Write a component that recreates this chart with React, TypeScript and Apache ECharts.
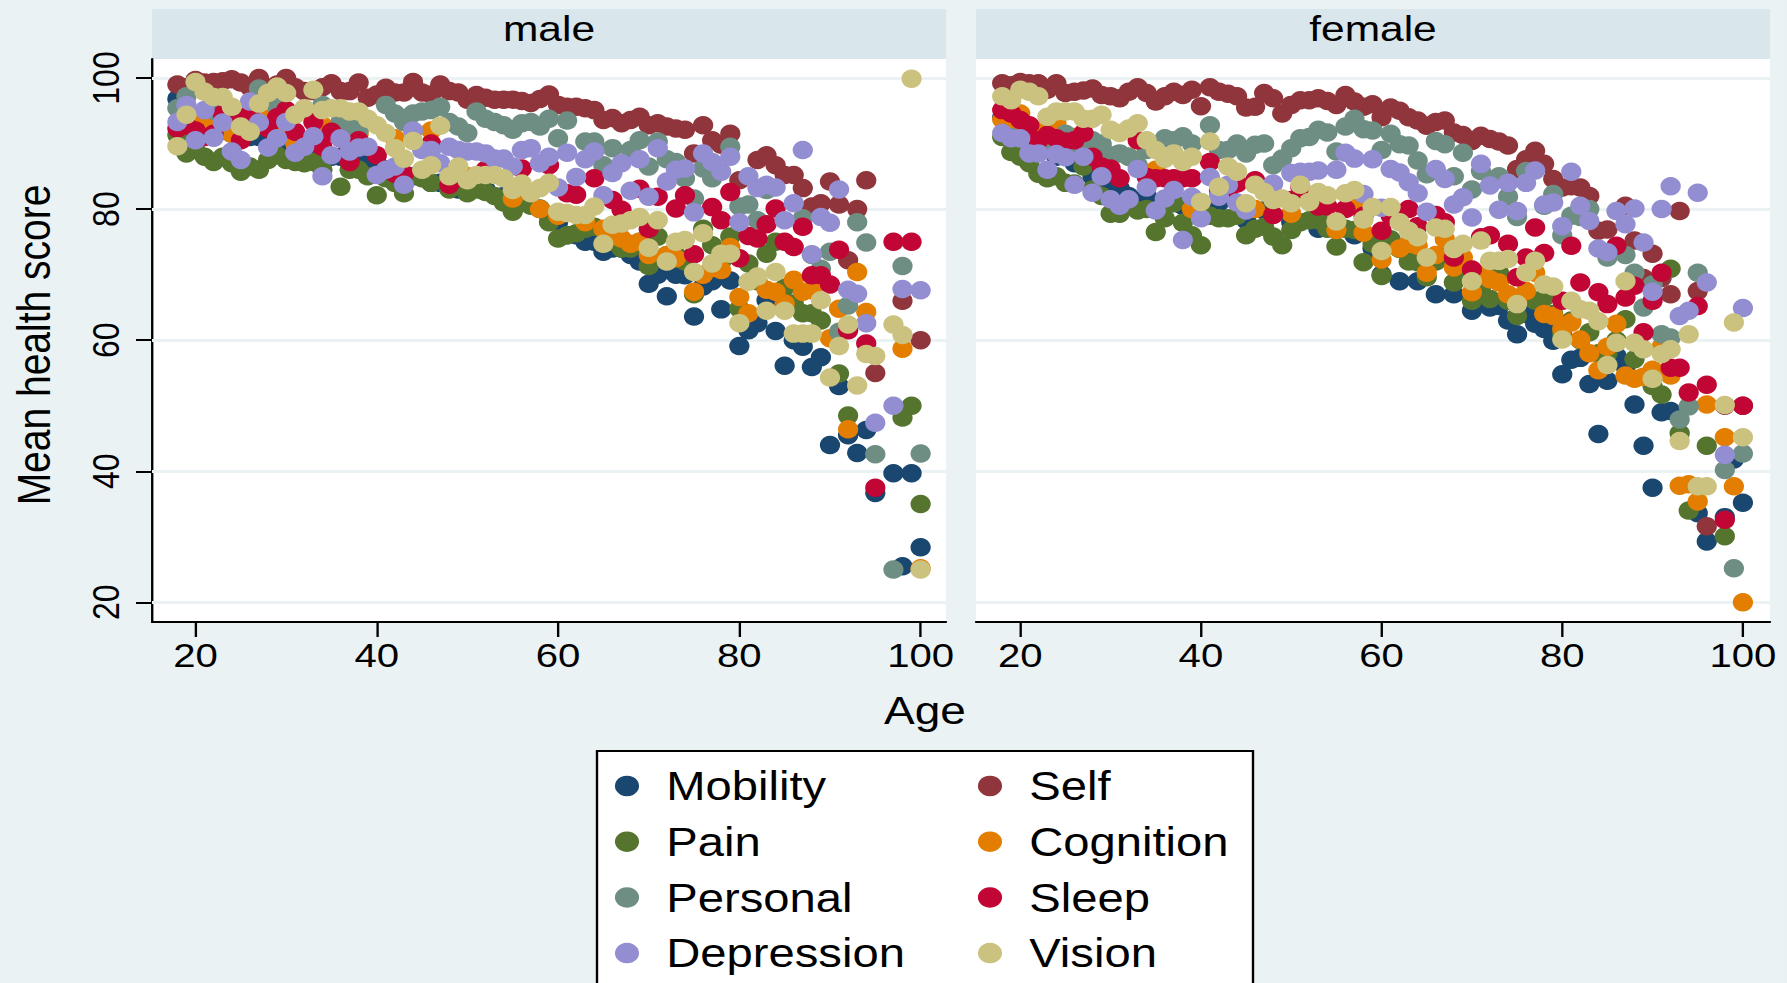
import React, { useEffect, useRef } from "react";
import * as echarts from "echarts";

type P = [number, number];

const xTicks = [20, 40, 60, 80, 100];
const yTicks = [20, 40, 60, 80, 100];

const mobilityMale: P[] = [[18,96.8],[19,95],[20,93],[21,93],[22,92],[23,92],[24,91.5],[25,91],[26,91],[27,91],[28,90],[29,90],[30,90],[31,90],[32,89],[33,89],[34,89],[35,88],[36,88],[37,88],[38,88],[39,87],[40,87],[41,86],[42,86],[43,85],[44,85],[45,85],[46,84],[47,84],[48,84],[49,83],[50,83],[52,83],[54,82],[56,81],[58,80],[59,79],[60,78],[61,76],[62,76],[63,75],[64,75],[65,73.5],[66,74],[67,74],[68,73],[69,72],[70,68.6],[71,70],[72,66.7],[73,70],[74,69.9],[75,63.6],[76,68.2],[77,69],[78,64.7],[79,69.1],[80,59.1],[81,61.5],[82,62.6],[83,66.1],[84,61.4],[85,56.1],[86,60],[87,59],[88,55.9],[89,57.4],[90,44],[91,53],[92,45.5],[93,42.8],[94,46.3],[95,36.7],[97,39.7],[98,25.5],[99,39.7],[100,28.4]];
const selfMale: P[] = [[18,99],[19,98.6],[20,99.7],[21,99.3],[22,99.4],[23,99.5],[24,99.8],[25,99.3],[26,98.6],[27,100],[28,98.5],[29,99],[30,100],[31,98.6],[32,98],[33,98],[34,98.6],[35,99.2],[36,98],[37,98],[38,99.3],[39,97],[40,97.5],[41,98.5],[42,97.8],[43,97.8],[44,99.4],[45,97.8],[46,97.5],[47,99],[48,98],[49,97.8],[50,96.7],[51,97.4],[52,97],[53,96.7],[54,96.7],[55,96.7],[56,96.5],[57,96.2],[58,96.8],[59,97.5],[60,95.9],[61,95.6],[62,95.6],[63,95.4],[64,95.1],[65,93.6],[66,93.9],[67,93.1],[68,93.6],[69,94.1],[70,92.8],[71,93.1],[72,92.6],[73,92.3],[74,92.1],[75,88.5],[76,92.8],[77,90.5],[78,89.8],[79,91.5],[80,84.4],[82,87.5],[83,88.2],[84,86.7],[85,85.2],[86,85.2],[87,83.2],[88,80.4],[89,80.9],[90,84.2],[91,80.7],[92,72.2],[93,80],[94,84.4],[95,55],[98,66],[100,60]];
const painMale: P[] = [[18,91.3],[19,88.5],[20,89],[21,88],[22,87.2],[23,88],[24,87],[25,85.7],[26,86.5],[27,86],[28,87.5],[29,88.2],[30,87.5],[31,87.2],[32,87],[33,87.2],[34,86],[36,83.4],[37,86],[38,86],[39,85],[40,82.1],[41,84.7],[42,84],[43,82.4],[45,84.7],[46,84],[48,83],[50,82.4],[51,83],[52,82.6],[53,82],[54,81],[55,79.6],[56,81],[57,80.5],[58,80.1],[59,78],[60,75.5],[61,76],[62,76.3],[63,77],[64,77.3],[66,75],[67,74],[68,74],[69,75],[70,71.3],[71,75.8],[72,73],[73,73],[74,72],[75,67],[76,77],[77,74.5],[78,72],[79,75.8],[80,64.8],[81,71.7],[82,69],[83,73.2],[84,75],[85,68],[86,65.6],[87,64.1],[88,64.1],[89,63],[91,54.9],[92,48.5],[98,48.2],[99,50],[100,35]];
const cognitionMale: P[] = [[20,93.8],[22,93],[24,91.5],[26,92],[28,93.8],[30,92],[31,90],[34,92.8],[38,91.5],[42,90.8],[46,92],[50,85],[55,81.6],[58,80],[60,79],[63,78],[65,77],[66,76],[67,75.5],[68,74.7],[69,75],[70,73],[72,73],[73,72.5],[75,67.4],[76,70],[77,71],[78,70.7],[79,74.2],[80,66.6],[81,64.1],[83,67.7],[84,67.4],[85,65.6],[86,69.2],[87,67.4],[88,67.6],[90,60.3],[91,64.8],[92,46.4],[93,70.4],[94,64.3],[98,58.7],[100,25.2]];
const personalMale: P[] = [[18,95.4],[19,97.2],[22,95],[24,94],[27,98.4],[29,95.6],[34,95.9],[36,93.3],[37,92.8],[38,92],[41,95.9],[42,94.6],[43,93.3],[44,94.6],[45,94.9],[46,95.1],[47,95.6],[48,93.3],[49,92.6],[50,91.6],[51,94.9],[52,93.8],[53,93.3],[54,92.8],[55,92.1],[56,93.1],[57,93.3],[58,92.6],[59,93.8],[60,90.8],[61,93.5],[63,90.3],[64,90.3],[65,86.7],[66,89.3],[68,89],[69,90.5],[70,86.5],[71,90.3],[72,87.6],[73,87.2],[74,84.7],[75,81.6],[76,86.2],[77,84.7],[79,89.5],[80,80.4],[81,80.7],[82,78.3],[83,82.9],[87,78.6],[88,73],[89,70.9],[90,73.5],[91,61.3],[92,65.3],[93,78],[94,74.9],[95,42.6],[97,25],[98,71.3],[100,42.7]];
const sleepMale: P[] = [[18,92.3],[19,92.8],[20,92],[21,91],[22,91.5],[23,94.5],[24,94.6],[25,90.5],[26,94.6],[27,93],[28,92.3],[29,94],[30,95.1],[31,91.8],[33,93.3],[34,89.5],[35,91.8],[36,90.8],[37,87.2],[38,90.5],[40,88.2],[42,85.4],[43,85.4],[46,90],[48,83.7],[52,86],[56,86.2],[59,86.7],[61,82.4],[62,82.2],[64,84.7],[66,81.4],[67,79.9],[69,83.1],[70,77],[71,81.9],[73,80.1],[74,82.1],[75,73.1],[77,80.3],[78,78.3],[79,82.6],[80,72.5],[81,75.9],[82,75.5],[83,77.7],[84,80.1],[85,75],[86,74.2],[87,77.3],[88,69.9],[89,69.9],[90,68.5],[91,73.8],[92,61.5],[94,59.5],[95,37.5],[97,75],[99,75]];
const depressionMale: P[] = [[18,93.3],[19,95.9],[20,90.5],[21,95.1],[22,90.9],[23,93.2],[24,88.8],[25,87.5],[26,96.4],[27,93.2],[28,89.4],[29,90.8],[30,93.3],[31,88.6],[32,89.5],[33,91.1],[34,85],[35,88.2],[36,90.8],[37,88.8],[38,89.4],[39,89.5],[40,85.2],[41,86],[42,86.5],[43,83.7],[44,92],[45,89],[46,89],[47,87],[48,89.5],[49,89],[50,88.8],[51,88.8],[52,88.5],[53,87.7],[54,87.7],[55,86.5],[56,89],[57,89.3],[58,87],[59,88],[60,83.3],[61,88.6],[62,84.9],[63,87.6],[64,88.8],[65,82.1],[66,85.5],[67,87],[68,82.8],[69,87.6],[70,81.9],[71,89.3],[72,84.2],[73,86],[74,86.2],[75,79.5],[76,88.5],[77,87.2],[78,85.7],[79,88],[80,78],[81,85],[82,83.2],[83,83.7],[84,83.3],[85,78.3],[86,80.9],[87,89],[88,73.1],[89,78.8],[90,77.9],[91,83],[92,67.7],[93,67.1],[94,62.6],[95,47.4],[97,50],[98,67.8],[100,67.6]];
const visionMale: P[] = [[18,89.6],[19,94.4],[20,99.4],[21,97.9],[22,97.1],[23,97.1],[24,95.6],[25,92.6],[26,91.8],[27,96.1],[28,97.7],[29,98.7],[30,97.7],[31,94.4],[32,95.4],[33,98.2],[34,95.1],[35,95.4],[36,95.4],[37,94.9],[38,94.9],[39,93.8],[40,92.8],[41,91.6],[42,89.3],[43,87.7],[44,90.4],[45,86],[46,86.7],[47,92.7],[48,85],[49,86.5],[50,84.4],[51,85.2],[52,85.2],[53,85.2],[54,84.7],[55,82.9],[56,83.9],[57,82.4],[58,83.2],[59,84],[60,79.6],[61,79.4],[62,79.1],[63,79.1],[64,80.4],[65,74.7],[66,77.6],[67,77.8],[68,78.3],[69,78.8],[70,74.1],[71,78.3],[72,72],[73,75],[74,75.3],[75,70.4],[76,76.3],[77,71.7],[78,73.2],[79,73.2],[80,62.6],[81,68.9],[82,69.7],[83,64.5],[84,70.4],[85,64.5],[86,61],[87,61],[88,61],[89,66.1],[90,54.3],[91,59.1],[92,62.4],[93,53.1],[94,57.9],[95,57.6],[97,62.4],[98,60.8],[99,99.9],[100,25]];

const mobilityFemale: P[] = [[18,94],[20,92],[22,90],[24,88],[26,87],[28,85],[30,84],[31,83.2],[32,82],[34,82],[36,81],[38,80.5],[40,80],[42,81],[45,78.3],[47,79.8],[50,78],[53,77],[57,76],[59,74],[60,70],[62,69],[64,69],[66,67],[68,67],[70,64.5],[72,65],[73,65.2],[74,63],[75,60.9],[76,64],[77,62.5],[78,61.7],[79,59.9],[80,54.8],[81,57],[82,57.3],[83,53.3],[84,45.7],[85,53.8],[86,57.6],[87,56],[88,50.2],[89,43.9],[90,37.5],[91,49],[92,49.2],[95,33.6],[96,29.3],[98,33],[99,41.8],[100,35.2]];
const selfFemale: P[] = [[18,99.2],[19,98.9],[20,99.4],[21,99.2],[22,99.2],[23,98.2],[24,99.2],[25,97.7],[26,97.9],[27,98.1],[28,98.4],[29,97.4],[30,97.2],[31,96.9],[32,97.9],[33,98.6],[34,97.7],[35,96.4],[36,97.2],[37,97.9],[38,97.4],[39,98.2],[40,95.7],[41,98.6],[42,97.9],[43,97.6],[44,97.2],[45,95.5],[46,95.6],[47,97.7],[48,96.9],[49,94.6],[50,95.9],[51,96.6],[52,96.6],[53,96.9],[54,96.5],[55,95.9],[56,97.4],[57,96.4],[58,95.6],[59,96],[60,94],[61,95.5],[62,95],[63,94],[64,93.5],[65,92.7],[66,93.3],[67,93.5],[68,91.7],[69,91.3],[70,90.4],[71,91.2],[72,90.7],[73,90.3],[74,89.7],[75,86.1],[76,87.6],[77,88.9],[78,86.9],[79,84.6],[80,83.3],[81,83.5],[82,83.3],[83,82],[84,76.7],[85,76.9],[87,80.5],[88,75.2],[89,69.5],[90,73.2],[91,69.5],[92,67],[93,79.7],[95,67.5],[96,31.6],[98,50],[100,50]];
const painFemale: P[] = [[18,91],[19,88.7],[20,88],[21,87],[22,85.4],[23,84.7],[24,85],[25,84],[26,83.9],[27,86.5],[28,83],[29,82],[30,79.3],[31,79.3],[32,81],[33,79.8],[34,80],[35,76.5],[36,78.6],[37,80.9],[38,77.9],[39,76],[40,74.5],[41,79],[42,78.6],[43,78.6],[44,79],[45,76],[46,77],[47,77.3],[48,75.8],[49,74.5],[50,76.8],[51,78],[52,78.3],[53,78.3],[54,77],[55,74.3],[56,77],[57,76.8],[58,71.9],[59,74.7],[60,69.8],[61,75.4],[62,73.9],[63,72],[64,71.9],[65,69.6],[66,72],[67,73],[68,68.8],[69,70],[70,66],[71,68],[72,66.3],[73,70.3],[74,66],[75,63.7],[76,67],[77,66],[78,66.5],[79,64],[80,61],[81,63],[82,60],[83,61.2],[84,58],[85,58],[86,60],[87,63.2],[88,57.1],[90,53],[91,51.7],[92,70.9],[93,45.8],[94,34],[96,43.9],[98,30.1]];
const cognitionFemale: P[] = [[18,93.7],[19,93],[20,94.6],[22,92],[24,93.1],[26,91],[29,89.8],[32,88],[35,86],[39,80],[42,82],[46,80],[50,79.3],[55,76.8],[57,80.6],[58,76.4],[60,72.3],[62,74],[63,74.7],[64,74.4],[65,70.3],[66,73],[67,75.4],[68,71.1],[69,72.6],[70,67.3],[71,70],[72,69.3],[73,68.8],[74,67],[75,66],[76,67.5],[77,70.3],[78,64],[79,63.7],[80,61.7],[81,62.7],[82,60.1],[83,58],[84,55.4],[85,59],[86,62.5],[87,54.6],[88,54.1],[89,54.4],[90,55.5],[91,59],[92,54.6],[93,37.8],[94,38],[95,35.4],[96,50.2],[98,45.2],[99,37.7],[100,20]];
const personalFemale: P[] = [[19,91],[21,90],[23,89],[25,91.5],[26,90],[27,89.5],[28,90.5],[29,90],[30,88.2],[31,88.5],[32,88],[33,86.7],[34,89],[36,90.8],[37,90.5],[38,91.1],[39,90],[41,92.8],[42,89],[43,89],[44,90],[45,88.5],[46,89.8],[47,90],[48,86.7],[49,87.7],[50,89.3],[51,90.8],[52,91],[53,92.1],[54,91.7],[55,88.8],[56,92.6],[57,93.8],[58,92.2],[59,92],[60,89],[61,91.5],[62,89.9],[63,89.7],[64,87.4],[65,85.3],[66,90.4],[67,89.9],[68,85],[69,88.6],[70,83],[71,85.8],[73,85],[74,81.9],[75,78.8],[76,85.8],[78,80.5],[79,82.3],[80,76],[81,79],[82,78.8],[83,80],[85,72.6],[87,73],[88,70.3],[89,65],[90,68.5],[91,60.9],[92,60.4],[93,47.9],[94,49.9],[95,70.3],[98,40.2],[99,25.2],[100,42.7]];
const sleepFemale: P[] = [[18,95.1],[19,94.6],[20,93.6],[21,92.8],[22,90.5],[23,91.3],[24,90.8],[25,90.3],[26,90.5],[27,91.6],[28,88],[29,86.5],[30,86.2],[31,84.7],[33,90.5],[34,84.9],[35,84.7],[36,84.7],[37,84.7],[38,84.7],[39,84.7],[41,87.2],[42,82.9],[43,82.4],[44,83.9],[46,84.4],[48,79.1],[50,81.4],[51,83.4],[53,80.4],[54,80.4],[56,80],[58,79],[60,76.7],[61,79],[63,80],[64,77.4],[66,79.1],[67,78],[68,72.6],[70,70.8],[71,75.7],[72,76],[74,74.7],[75,69.6],[76,72.6],[77,77.2],[78,73.3],[80,66],[81,74.4],[82,68.8],[84,67.3],[85,65.5],[86,74.4],[87,66.5],[88,68.3],[89,61.2],[90,66],[91,70.3],[92,55.8],[93,55.8],[94,52],[95,65.2],[96,53.2],[98,32.6],[100,50]];
const depressionFemale: P[] = [[18,91.6],[19,90.8],[20,90.8],[21,88.5],[22,88.5],[23,86],[24,88.4],[25,87.9],[26,83.7],[27,88],[28,82.5],[29,85],[30,81.5],[31,80.5],[32,81.5],[33,86.1],[34,83.3],[35,79.8],[36,81.6],[37,82.9],[38,75.3],[39,81.9],[40,78.6],[41,84.9],[42,81.9],[43,83.7],[44,81],[45,79.8],[48,83.9],[50,85.5],[51,85.7],[52,85.7],[53,85.9],[55,86],[56,88.6],[57,87.7],[58,82.3],[59,87.6],[60,80.2],[61,86.1],[62,85.6],[63,84.1],[64,82.4],[65,79.6],[66,86.1],[67,84.6],[68,80.7],[69,81.8],[70,78.7],[71,86.9],[72,83.6],[73,79.9],[74,84],[75,79.7],[76,84],[77,85.9],[78,80.7],[79,81],[80,77.4],[81,85.7],[82,80.5],[83,78.2],[84,74],[85,73.4],[86,79.7],[87,77.7],[88,80.1],[89,74.9],[90,67.4],[91,80],[92,83.5],[93,63.7],[94,64.5],[95,82.5],[96,68.8],[98,42.5],[100,64.9]];
const visionFemale: P[] = [[18,97.2],[19,96.6],[20,98.2],[21,97.9],[22,97.2],[23,94.1],[24,94.9],[25,94.9],[26,94.9],[27,93.8],[28,93.8],[29,94.4],[30,92.1],[31,91.6],[32,92.3],[33,93.1],[34,90.5],[35,89],[36,87.7],[37,88.5],[38,87.2],[39,88],[40,81.1],[41,90.3],[42,83.4],[43,86.5],[44,85.7],[45,80.9],[46,83.7],[47,82.6],[48,81.4],[49,81.6],[50,80.9],[51,83.7],[52,81.1],[53,82.6],[54,82.1],[55,78.1],[56,82.4],[57,82.9],[58,78.4],[59,80.3],[60,73.6],[61,80.3],[62,78],[63,76.7],[64,75.7],[65,72.6],[66,77.2],[67,77],[68,73.9],[69,74.7],[70,69],[71,75.2],[72,72.1],[73,72.1],[74,72.4],[75,65.5],[76,70.3],[77,72.1],[78,68.5],[79,68.2],[80,60.1],[81,66],[82,64.7],[83,64.5],[84,62.9],[85,56.2],[86,59.6],[87,69],[88,59.6],[89,58.6],[90,54.1],[91,57.9],[92,58.6],[93,44.6],[94,60.9],[95,37.7],[96,37.7],[98,50.1],[99,62.7],[100,45.2]];

const leftLegend = ["Mobility", "Pain", "Personal", "Depression"];
const rightLegend = ["Self", "Cognition", "Sleep", "Vision"];

// Draw order follows the plotting order of the source figure.
const names = ["Mobility", "Self", "Pain", "Cognition", "Personal", "Sleep", "Depression", "Vision"];
const colors = ["#1A476F", "#90353B", "#55752F", "#E37E00", "#6E8E84", "#C10534", "#938DD2", "#CAC27E"];
const maleData = [mobilityMale, selfMale, painMale, cognitionMale, personalMale, sleepMale, depressionMale, visionMale];
const femaleData = [mobilityFemale, selfFemale, painFemale, cognitionFemale, personalFemale, sleepFemale, depressionFemale, visionFemale];

// The reference image is stretched horizontally; reproduce that on the whole chart.
const STRETCH = 1.18;
const sx = (v: number) => v / STRETCH;
const FONT = "Liberation Sans";
const PAGE_BG = "#EAF2F3";

export default function App() {
  const ref = useRef<HTMLDivElement>(null);

  useEffect(() => {
    document.body.style.margin = "0";
    document.body.style.overflow = "hidden";
    document.body.style.background = PAGE_BG;
    const chart = echarts.init(ref.current!, undefined, { renderer: "svg" });

    const grids = [
      { left: sx(152), top: 59, width: sx(794), height: 563, show: true, backgroundColor: "#fff", borderWidth: 0, outerBoundsMode: "none" },
      { left: sx(976), top: 59, width: sx(794), height: 563, show: true, backgroundColor: "#fff", borderWidth: 0, outerBoundsMode: "none" },
    ];

    const xAxisBase = {
      type: "value" as const,
      splitLine: { show: false },
      axisLine: { show: true, onZero: false, lineStyle: { color: "#000", width: 2 } },
      axisTick: { show: true, customValues: xTicks, length: 15, lineStyle: { color: "#000", width: 2 } },
      axisLabel: { customValues: xTicks, margin: 16, fontSize: 34, color: "#000", fontFamily: FONT, hideOverlap: false, showMinLabel: true, showMaxLabel: true },
    };

    const yAxisBase = {
      type: "value" as const,
      min: 17,
      max: 102.9,
      splitLine: { show: false },
    };

    const gridLines = {
      silent: true,
      symbol: "none",
      z: 1,
      label: { show: false },
      lineStyle: { color: PAGE_BG, width: 3, type: "solid" as const },
      data: yTicks.map((v) => ({ yAxis: v })),
    };

    const makeSeries = (idx: number, rows: P[][]) =>
      rows.map((data, i) => ({
        name: names[i],
        type: "scatter" as const,
        xAxisIndex: idx,
        yAxisIndex: idx,
        data,
        symbol: "circle",
        symbolSize: [17.2, 18.5],
        itemStyle: { color: colors[i], opacity: 1 },
        clip: false,
        z: 2,
        ...(i === 0 ? { markLine: gridLines } : {}),
      }));

    const legendBase = {
      orient: "vertical" as const,
      top: 761,
      itemWidth: 20.5,
      itemHeight: 20.5,
      itemGap: 15.7,
      icon: "circle",
      selectedMode: false,
      textStyle: { fontFamily: FONT, fontSize: 40, color: "#000", padding: [0, 0, 0, 18] },
    };

    chart.setOption({
      animation: false,
      backgroundColor: PAGE_BG,
      grid: grids,
      xAxis: [
        { ...xAxisBase, gridIndex: 0, min: 15.2, max: 102.8 },
        { ...xAxisBase, gridIndex: 1, min: 15.1, max: 103 },
      ],
      yAxis: [
        {
          ...yAxisBase,
          gridIndex: 0,
          name: "Mean health score",
          nameLocation: "middle",
          nameGap: 81,
          nameRotate: 90,
          nameTextStyle: { fontFamily: FONT, fontSize: 39, color: "#000", padding: [0, 9, 0, 0] },
          axisLine: { show: true, onZero: false, lineStyle: { color: "#000", width: 2 } },
          axisTick: { show: true, customValues: yTicks, length: sx(16), lineStyle: { color: "#000", width: 2 } },
          axisLabel: { customValues: yTicks, rotate: 90, margin: sx(28), fontSize: 32, color: "#000", fontFamily: FONT, align: "center", verticalAlign: "bottom", showMinLabel: true, showMaxLabel: true },
        },
        {
          ...yAxisBase,
          gridIndex: 1,
          axisLine: { show: false },
          axisTick: { show: false },
          axisLabel: { show: false },
        },
      ],
      legend: [
        { ...legendBase, left: sx(609), data: leftLegend },
        { ...legendBase, left: sx(972), data: rightLegend },
      ],
      graphic: [
        { type: "rect", z: -1, shape: { x: sx(152), y: 9, width: sx(794), height: 50 }, style: { fill: "#D9E6EB" } },
        { type: "rect", z: -1, shape: { x: sx(976), y: 9, width: sx(794), height: 50 }, style: { fill: "#D9E6EB" } },
        { type: "rect", z: -1, shape: { x: sx(597), y: 751, width: sx(656), height: 260 }, style: { fill: "#fff", stroke: "#000", lineWidth: 2 } },
        { type: "text", x: sx(549), y: 28, style: { text: "male", fontFamily: FONT, fontSize: 36, fill: "#000", align: "center", verticalAlign: "middle" } },
        { type: "text", x: sx(1373), y: 28, style: { text: "female", fontFamily: FONT, fontSize: 36, fill: "#000", align: "center", verticalAlign: "middle" } },
        { type: "text", x: sx(925), y: 710, style: { text: "Age", fontFamily: FONT, fontSize: 39, fill: "#000", align: "center", verticalAlign: "middle" } },
      ],
      series: [...makeSeries(0, maleData), ...makeSeries(1, femaleData)],
    });

    return () => chart.dispose();
  }, []);

  return (
    <div
      ref={ref}
      style={{
        position: "absolute",
        left: 0,
        top: 0,
        width: sx(1787),
        height: 983,
        transform: `scaleX(${STRETCH})`,
        transformOrigin: "0 0",
      }}
    />
  );
}
